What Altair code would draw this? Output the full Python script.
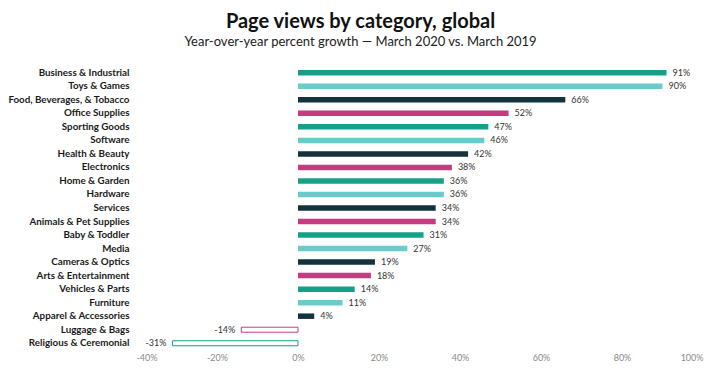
import altair as alt
import pandas as pd

categories = [
    "Business & Industrial", "Toys & Games", "Food, Beverages, & Tobacco",
    "Office Supplies", "Sporting Goods", "Software", "Health & Beauty",
    "Electronics", "Home & Garden", "Hardware", "Services",
    "Animals & Pet Supplies", "Baby & Toddler", "Media", "Cameras & Optics",
    "Arts & Entertainment", "Vehicles & Parts", "Furniture",
    "Apparel & Accessories", "Luggage & Bags", "Religious & Ceremonial",
]
growth = [91, 90, 66, 52, 47, 46, 42, 38, 36, 36, 34, 34, 31, 27, 19, 18, 14, 11, 4, -14, -31]
x_ticks = [-40, -20, 0, 20, 40, 60, 80, 100]

palette = ["#16a08a", "#6dcacb", "#13343f", "#c63a80"]

df = pd.DataFrame({
    "category": categories,
    "growth": growth,
    "grp": [i % 4 for i in range(len(categories))],
})
df["label"] = df["growth"].map(lambda v: f"{v}%")

FONT = "Lato"

y_enc = alt.Y("category:N", sort=categories, title=None,
              scale=alt.Scale(paddingInner=0, paddingOuter=0),
              axis=alt.Axis(ticks=False, domain=False, labelPadding=7,
                            labelFont=FONT, labelFontWeight="bold",
                            labelFontSize=9.8, labelColor="#1a1a1a"))
x_enc = alt.X("growth:Q", title=None,
              scale=alt.Scale(domain=[-40, 100], nice=False),
              axis=alt.Axis(values=x_ticks, labelExpr="datum.value + '%'",
                            grid=False, ticks=False, domain=False,
                            labelFont=FONT, labelFontSize=9, labelColor="#8a8a8a",
                            labelPadding=3))
color_enc = alt.Color("grp:N", legend=None,
                      scale=alt.Scale(domain=[0, 1, 2, 3], range=palette))
stroke_enc = alt.Stroke("grp:N", legend=None,
                        scale=alt.Scale(domain=[0, 1, 2, 3], range=palette))

base = alt.Chart(df)

pos_bars = base.transform_filter("datum.growth >= 0").mark_bar(size=5.5).encode(
    y=y_enc, x=x_enc, color=color_enc)
neg_bars = base.transform_filter("datum.growth < 0").mark_bar(
    size=5, fill="white", strokeWidth=1).encode(
    y=y_enc, x=x_enc, stroke=stroke_enc)

pos_text = base.transform_filter("datum.growth >= 0").mark_text(
    align="left", dx=6, font=FONT, fontSize=9, color="#333333").encode(
    y=y_enc, x=x_enc, text="label:N")
neg_text = base.transform_filter("datum.growth < 0").mark_text(
    align="right", dx=-6, font=FONT, fontSize=9, color="#333333").encode(
    y=y_enc, x=x_enc, text="label:N")

chart = alt.layer(pos_bars, neg_bars, pos_text, neg_text).properties(
    width=567, height=284,
    autosize=alt.AutoSizeParams(type="none"),
    padding={"left": 128, "top": 58, "right": 10, "bottom": 16},
    title=alt.TitleParams(
        text="Page views by category, global",
        subtitle="Year-over-year percent growth \u2014 March 2020 vs. March 2019",
        anchor="middle", dx=-59, offset=17,
        font=FONT, fontSize=20, fontWeight="bold", color="#111111",
        subtitleFont=FONT, subtitleFontSize=13, subtitleColor="#222222",
        subtitlePadding=4,
    ),
).configure_view(stroke=None)

chart.save("out.html", embed_options={"renderer": "svg", "actions": False})
